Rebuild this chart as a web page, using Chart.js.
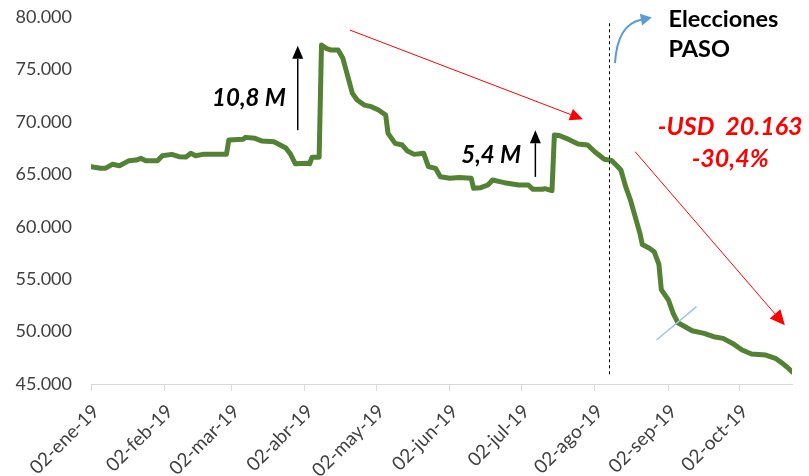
<!DOCTYPE html>
<html>
<head>
<meta charset="utf-8">
<script src="https://cdn.jsdelivr.net/npm/chart.js@4.4.1/dist/chart.umd.min.js"></script>
<style>
  html, body { margin: 0; padding: 0; background: #ffffff; }
  #c { display: block; }
</style>
</head>
<body>
<canvas id="c" width="809" height="476"></canvas>
<script>
// Reservas internacionales (millones de USD), 2019
const fechas = [
  '2019-01-02','2019-01-06','2019-01-08','2019-01-11','2019-01-14','2019-01-18','2019-01-21','2019-01-23','2019-01-25','2019-01-30',
  '2019-02-01','2019-02-05','2019-02-08','2019-02-11','2019-02-13','2019-02-15','2019-02-18','2019-02-28',
  '2019-03-01','2019-03-07','2019-03-08','2019-03-12','2019-03-15','2019-03-20','2019-03-25','2019-03-27','2019-03-29',
  '2019-04-03','2019-04-04','2019-04-05','2019-04-08','2019-04-09','2019-04-11','2019-04-13','2019-04-16','2019-04-18',
  '2019-04-22','2019-04-24','2019-04-27','2019-04-30',
  '2019-05-03','2019-05-06','2019-05-07','2019-05-10','2019-05-13','2019-05-15','2019-05-18','2019-05-22','2019-05-24','2019-05-27','2019-05-29',
  '2019-06-02','2019-06-06','2019-06-11','2019-06-12','2019-06-15','2019-06-18','2019-06-20','2019-06-23','2019-06-25',
  '2019-07-01','2019-07-05','2019-07-07','2019-07-11','2019-07-12','2019-07-15','2019-07-16','2019-07-18','2019-07-21','2019-07-24','2019-07-26','2019-07-30',
  '2019-08-02','2019-08-06','2019-08-09','2019-08-11','2019-08-13','2019-08-15','2019-08-17','2019-08-19','2019-08-21','2019-08-22','2019-08-25','2019-08-27','2019-08-29','2019-08-30',
  '2019-09-02','2019-09-04','2019-09-06','2019-09-09','2019-09-12','2019-09-17','2019-09-21','2019-09-25','2019-09-29',
  '2019-10-03','2019-10-07','2019-10-13','2019-10-17','2019-10-20','2019-10-22','2019-10-24'
];
const reservas = [
  65730,65570,65570,65950,65820,66300,66360,66520,66300,66300,
  66770,66900,66680,66650,67000,66770,66900,66900,
  68270,68330,68520,68430,68170,68110,67500,66900,66000,
  66050,66000,66620,66620,77330,77010,76850,76850,76060,
  72720,72080,71600,71450,
  71130,70650,68900,67950,67790,67250,66900,67000,65730,65570,64770,
  64620,64700,64620,63660,63720,63980,64450,64300,64200,
  63980,63980,63570,63570,63630,63440,68750,68700,68430,68110,67890,67790,
  67150,66430,66326,65890,65410,63820,62550,60960,59370,58300,57940,57620,56400,54000,
  53010,51740,50840,50460,50080,49830,49510,49350,48870,
  48240,47860,47760,47450,46970,46600,46163
];
const fechasEje = ['2019-01-02','2019-02-02','2019-03-02','2019-04-02','2019-05-02','2019-06-02','2019-07-02','2019-08-02','2019-09-02','2019-10-02'];
const etiquetasEje = ['02-ene-19','02-feb-19','02-mar-19','02-abr-19','02-may-19','02-jun-19','02-jul-19','02-ago-19','02-sep-19','02-oct-19'];
const ticksY = [45000, 50000, 55000, 60000, 65000, 70000, 75000, 80000];

const ORIGEN = Date.UTC(2019, 0, 2);
function dia(s) {
  const p = s.split('-').map(Number);
  return (Date.UTC(p[0], p[1] - 1, p[2]) - ORIGEN) / 86400000;
}
function miles(v) {
  return String(v).replace(/\B(?=(\d{3})+(?!\d))/g, '.');
}

const puntos = fechas.map((f, i) => ({ x: dia(f), y: reservas[i] }));
const diasEje = fechasEje.map(dia);
const ultimoDia = dia(fechas[fechas.length - 1]);

const familia = 'Lato, "Open Sans", sans-serif';
const colorEje = '#404040';

function flecha(ctx, x1, y1, x2, y2, color, ancho, largo, abertura) {
  const ang = Math.atan2(y2 - y1, x2 - x1);
  const bx = x2 - largo * Math.cos(ang), by = y2 - largo * Math.sin(ang);
  ctx.save();
  ctx.strokeStyle = color; ctx.fillStyle = color; ctx.lineWidth = ancho;
  ctx.beginPath(); ctx.moveTo(x1, y1); ctx.lineTo(bx, by); ctx.stroke();
  ctx.beginPath();
  ctx.moveTo(x2, y2);
  ctx.lineTo(bx + abertura * Math.sin(ang), by - abertura * Math.cos(ang));
  ctx.lineTo(bx - abertura * Math.sin(ang), by + abertura * Math.cos(ang));
  ctx.closePath(); ctx.fill();
  ctx.restore();
}

const anotaciones = {
  id: 'anotaciones',
  afterDatasetsDraw(chart) {
    const ctx = chart.ctx;
    const X = v => chart.scales.x.getPixelForValue(typeof v === 'string' ? dia(v) : v);
    const Y = v => chart.scales.y.getPixelForValue(v);

    // PASO: línea vertical punteada
    ctx.save();
    ctx.strokeStyle = '#000000'; ctx.lineWidth = 1; ctx.setLineDash([3, 3]);
    const xp = Math.round(X('2019-08-08')) + 0.5;
    ctx.beginPath(); ctx.moveTo(xp, Y(79400)); ctx.lineTo(xp, Y(45700)); ctx.stroke();
    ctx.restore();

    // desembolsos
    flecha(ctx, X('2019-03-30'), Y(69200), X('2019-03-30'), Y(77250), '#000000', 1.5, 13, 5.5);
    flecha(ctx, X('2019-07-08'), Y(64750), X('2019-07-08'), Y(69200), '#000000', 1.5, 13, 5.5);

    ctx.save();
    ctx.fillStyle = '#000000';
    ctx.font = 'italic bold 24px ' + familia;
    ctx.textAlign = 'right'; ctx.textBaseline = 'middle';
    ctx.fillText('10,8 M', X('2019-03-25'), Y(72250));
    ctx.fillText('5,4 M', X('2019-07-02'), Y(66850));
    ctx.restore();

    // tendencias
    flecha(ctx, X('2019-04-21'), Y(78750), X('2019-07-28'), Y(70250), '#FF0000', 1, 13, 6);
    flecha(ctx, X('2019-08-19'), Y(67150), X('2019-10-21'), Y(50600), '#FF0000', 1, 15, 7);

    ctx.save();
    ctx.fillStyle = '#FF0000';
    ctx.font = 'italic bold 25px ' + familia;
    ctx.textAlign = 'center'; ctx.textBaseline = 'middle';
    ctx.fillText('-USD  20.163', X('2019-09-28'), Y(69540));
    ctx.fillText('-30,4%', X('2019-09-28'), Y(66500));
    ctx.restore();

    // Elecciones PASO
    ctx.save();
    ctx.fillStyle = '#000000';
    ctx.font = 'bold 23.5px ' + familia;
    ctx.textAlign = 'left'; ctx.textBaseline = 'middle';
    ctx.fillText('Elecciones', X('2019-09-02'), Y(79800));
    ctx.fillText('PASO', X('2019-09-02'), Y(76950));
    ctx.restore();

    // flecha curva azul
    ctx.save();
    const sx = X(220.5), sy = Y(75600);
    const cx = X(221.5), cy = Y(79300);
    const tx = X(236), ty = Y(79950);
    ctx.strokeStyle = '#5B9BD5'; ctx.fillStyle = '#5B9BD5'; ctx.lineWidth = 2;
    const ang = Math.atan2(ty - cy, tx - cx);
    const hx = tx - 11 * Math.cos(ang), hy = ty - 11 * Math.sin(ang);
    ctx.beginPath(); ctx.moveTo(sx, sy); ctx.quadraticCurveTo(cx, cy, hx, hy); ctx.stroke();
    ctx.beginPath();
    ctx.moveTo(tx, ty);
    ctx.lineTo(hx + 6 * Math.sin(ang), hy - 6 * Math.cos(ang));
    ctx.lineTo(hx - 6 * Math.sin(ang), hy + 6 * Math.cos(ang));
    ctx.closePath(); ctx.fill();
    ctx.restore();

    // marca de quiebre
    ctx.save();
    ctx.strokeStyle = '#9DC3E6'; ctx.lineWidth = 1.5;
    ctx.beginPath(); ctx.moveTo(X(238), Y(49200)); ctx.lineTo(X(254.8), Y(52380)); ctx.stroke();
    ctx.restore();
  }
};

new Chart(document.getElementById('c'), {
  type: 'line',
  data: {
    datasets: [{
      data: puntos,
      borderColor: '#548235',
      borderWidth: 5,
      borderJoinStyle: 'round',
      borderCapStyle: 'round',
      pointRadius: 0,
      tension: 0,
      fill: false
    }]
  },
  options: {
    responsive: false,
    animation: false,
    events: [],
    layout: { padding: { top: 17, right: 17, bottom: 0, left: 0 } },
    plugins: { legend: { display: false }, tooltip: { enabled: false } },
    scales: {
      x: {
        type: 'linear',
        min: 0,
        max: ultimoDia,
        afterBuildTicks: s => { s.ticks = diasEje.map(v => ({ value: v })); },
        afterFit: s => { s.height = 92; },
        grid: { display: true, drawOnChartArea: false, drawTicks: true, tickLength: 7, color: '#D9D9D9' },
        border: { display: true, color: '#D9D9D9', width: 1 },
        ticks: {
          autoSkip: false,
          minRotation: 45,
          maxRotation: 45,
          padding: 9,
          labelOffset: 5,
          font: { family: familia, size: 19 },
          color: colorEje,
          callback: v => {
            const i = diasEje.indexOf(v);
            return i >= 0 ? etiquetasEje[i] : '';
          }
        }
      },
      y: {
        min: ticksY[0],
        max: ticksY[ticksY.length - 1],
        afterFit: s => { s.width = 91; s.paddingTop = 0; s.paddingBottom = 0; },
        afterBuildTicks: s => { s.ticks = ticksY.map(v => ({ value: v })); },
        grid: { display: false },
        border: { display: false },
        ticks: {
          padding: 11,
          font: { family: familia, size: 18 },
          color: colorEje,
          callback: v => miles(v)
        }
      }
    }
  },
  plugins: [anotaciones]
});
</script>
</body>
</html>
